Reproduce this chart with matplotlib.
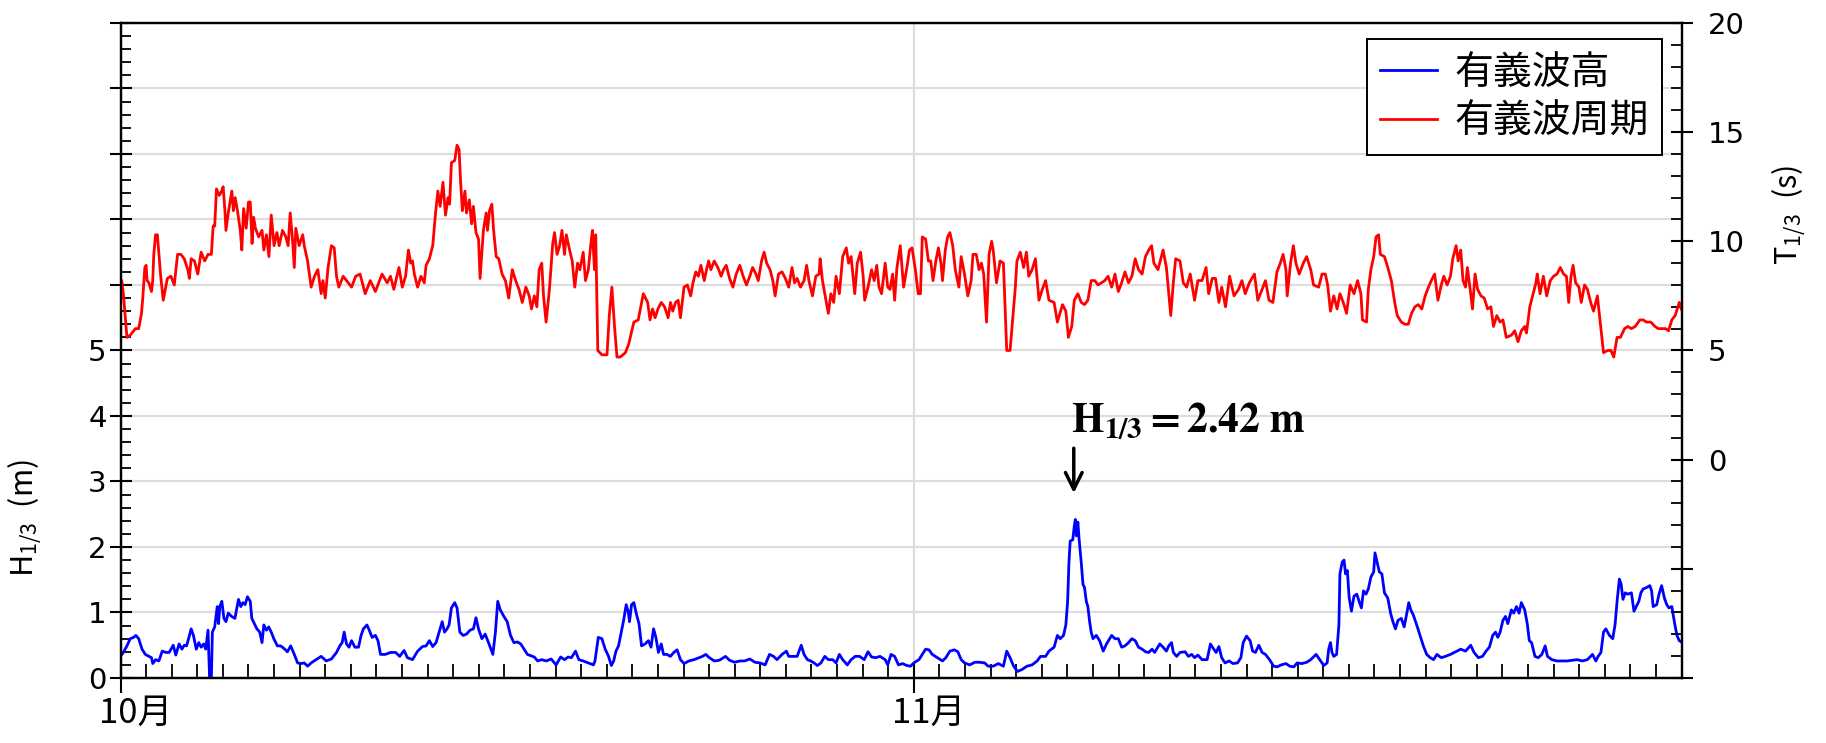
import numpy as np
import matplotlib
matplotlib.use("Agg")
import matplotlib.pyplot as plt
from matplotlib.ticker import MultipleLocator, FixedLocator, FuncFormatter
from matplotlib.transforms import ScaledTranslation

plt.rcParams['font.family'] = ['Noto Sans CJK JP', 'DejaVu Sans']
plt.rcParams['mathtext.fontset'] = 'stix'

# x in days since 10/1 00:00
month_pos = [0, 31]
month_labels = ['10月', '11月']

# significant wave height H1/3 (m)
hs_day = [0.00, 0.11, 0.25, 0.38, 0.51, 0.60, 0.71, 0.84, 0.97, 1.11, 1.21, 1.26, 1.37, 1.50, 1.63, 1.77, 1.90,
          2.06, 2.16, 2.29, 2.40, 2.49, 2.58, 2.66, 2.76, 2.85, 2.96, 3.06, 3.15, 3.25, 3.33, 3.42, 3.48, 3.55,
          3.59, 3.68, 3.78, 3.83, 3.88, 3.96, 4.04, 4.12, 4.21, 4.34, 4.47, 4.61, 4.70, 4.78, 4.87, 4.96, 5.07,
          5.13, 5.23, 5.33, 5.44, 5.53, 5.60, 5.70, 5.79, 5.89, 5.99, 6.13, 6.26, 6.39, 6.52, 6.65, 6.79, 6.92,
          7.05, 7.18, 7.31, 7.45, 7.64, 7.84, 8.04, 8.24, 8.44, 8.57, 8.66, 8.74, 8.83, 8.93, 9.03, 9.16, 9.30,
          9.40, 9.49, 9.63, 9.72, 9.83, 9.96, 10.06, 10.16, 10.35, 10.55, 10.75, 10.91, 11.08, 11.21, 11.41,
          11.61, 11.80, 11.94, 12.07, 12.20, 12.33, 12.47, 12.57, 12.66, 12.76, 12.84, 12.93, 13.06, 13.15,
          13.26, 13.39, 13.52, 13.66, 13.79, 13.89, 13.99, 14.12, 14.25, 14.38, 14.55, 14.65, 14.74, 14.84,
          14.98, 15.11, 15.24, 15.37, 15.51, 15.64, 15.77, 15.90, 16.17, 16.30, 16.46, 16.63, 16.83, 17.02,
          17.20, 17.35, 17.49, 17.62, 17.78, 17.91, 18.08, 18.28, 18.48, 18.54, 18.67, 18.81, 18.94, 19.07,
          19.18, 19.27, 19.36, 19.46, 19.57, 19.66, 19.76, 19.84, 19.89, 19.97, 20.06,
          20.17, 20.26, 20.36, 20.50, 20.63, 20.73, 20.83, 20.92, 21.02, 21.13, 21.22, 21.35, 21.49, 21.62,
          21.75, 21.88, 22.02, 22.21, 22.41, 22.61, 22.74, 22.87, 23.01, 23.20, 23.40, 23.64, 23.80, 24.00,
          24.20, 24.39, 24.59, 24.79, 24.99, 25.19, 25.36, 25.52, 25.65, 25.85, 26.02, 26.11, 26.24, 26.44,
          26.60, 26.71, 26.84, 26.97, 27.10, 27.23, 27.37, 27.52, 27.66, 27.83, 27.96, 28.09, 28.22, 28.40,
          28.55, 28.71, 28.88, 29.06, 29.21, 29.35, 29.51, 29.68, 29.88, 29.98, 30.11, 30.25, 30.40, 30.56,
          30.73, 30.87, 31.00, 31.20, 31.33, 31.46, 31.59, 31.72, 31.92, 32.12, 32.25, 32.41, 32.58, 32.72,
          32.85, 32.98, 33.18, 33.38, 33.57, 33.77, 33.90, 34.10, 34.30, 34.50, 34.63, 34.76, 34.90, 35.05,
          35.23, 35.42, 35.62, 35.82, 35.95, 36.15, 36.28, 36.48, 36.61, 36.72, 36.85, 36.94, 37.01, 37.06,
          37.11, 37.21, 37.27, 37.31, 37.35, 37.41, 37.46, 37.54, 37.61, 37.67, 37.74, 37.80, 37.87, 37.93,
          38.00, 38.13, 38.26, 38.40, 38.53, 38.73, 38.86, 38.99, 39.12, 39.25, 39.39, 39.52, 39.65, 39.78,
          39.92, 40.05, 40.18, 40.31,
          40.41, 40.61, 40.74, 40.87, 40.96, 41.07, 41.14, 41.27, 41.40, 41.60, 41.73, 41.86, 41.97, 42.10,
          42.26, 42.46, 42.59, 42.72, 42.81, 42.92, 43.03, 43.16, 43.32, 43.47, 43.65, 43.78, 43.87, 44.00,
          44.14, 44.24, 44.35, 44.48, 44.61, 44.74, 44.90, 45.06, 45.19, 45.36, 45.54, 45.69, 45.85, 45.98,
          46.16, 46.35, 46.51, 46.72, 46.86, 47.02, 47.15, 47.21, 47.28, 47.34, 47.41, 47.52, 47.61, 47.65,
          47.74, 47.81, 47.87, 47.94, 48.01, 48.10, 48.20, 48.31, 48.40, 48.49, 48.57, 48.67, 48.76, 48.86,
          48.97, 49.02, 49.10, 49.19, 49.29, 49.39, 49.52, 49.63, 49.72, 49.82, 49.92, 50.05, 50.16, 50.25,
          50.34, 50.42, 50.52, 50.65, 50.78, 50.91, 51.04, 51.18, 51.31, 51.44, 51.61, 51.77, 51.97, 52.17,
          52.37, 52.56, 52.76, 52.89, 53.06, 53.22, 53.36, 53.49, 53.62, 53.73, 53.82, 53.91, 54.02, 54.12,
          54.21, 54.35, 54.44, 54.55, 54.65, 54.74, 54.87, 54.97, 55.05, 55.14, 55.27, 55.40, 55.54, 55.67,
          55.76, 55.93, 56.13, 56.33, 56.53, 56.72, 56.92, 57.12, 57.32, 57.52, 57.65, 57.74, 57.85, 57.95,
          58.04, 58.18, 58.31, 58.40, 58.48, 58.57, 58.64, 58.71, 58.80, 58.90, 59.04, 59.14, 59.23, 59.33,
          59.41, 59.50, 59.63, 59.76, 59.83, 59.89, 60.03, 60.12, 60.22, 60.33, 60.42, 60.51, 60.62, 60.73,
          60.82, 60.91, 60.99]
hs_m = [0.33, 0.39, 0.49, 0.60, 0.62, 0.65, 0.60, 0.44, 0.36, 0.33, 0.31, 0.22, 0.28, 0.26, 0.41, 0.39, 0.39,
        0.50, 0.35, 0.52, 0.44, 0.50, 0.49, 0.60, 0.75, 0.65, 0.44, 0.54, 0.47, 0.52, 0.44, 0.73, 0.00, 0.00,
        0.70, 0.78, 1.09, 0.83, 1.09, 1.17, 0.91, 0.86, 0.99, 0.94, 0.91, 1.20, 1.09, 1.15, 1.12, 1.24, 1.17,
        0.91, 0.83, 0.75, 0.70, 0.54, 0.81, 0.73, 0.78, 0.70, 0.60, 0.49, 0.49, 0.45, 0.40, 0.49, 0.36, 0.23,
        0.22, 0.23, 0.18, 0.23, 0.28, 0.33, 0.26, 0.29, 0.39, 0.49, 0.54, 0.70, 0.52, 0.47, 0.57, 0.47, 0.47,
        0.65, 0.75, 0.81, 0.73, 0.62, 0.65, 0.57, 0.36, 0.36, 0.39, 0.39, 0.33, 0.42, 0.31, 0.28,
        0.41, 0.48, 0.49, 0.57, 0.48, 0.54, 0.73, 0.86, 0.70, 0.75, 0.81, 1.07, 1.15, 1.07,
        0.70, 0.65, 0.67, 0.73, 0.75, 0.92, 0.75, 0.60, 0.67, 0.54, 0.36, 0.70, 1.17, 1.04,
        0.94, 0.86, 0.65, 0.54, 0.55, 0.52, 0.44, 0.36, 0.32, 0.26, 0.28, 0.26, 0.29, 0.20,
        0.32, 0.28, 0.32, 0.31, 0.41, 0.28, 0.26, 0.23, 0.20, 0.26, 0.62, 0.60, 0.44, 0.33,
        0.19, 0.26, 0.41, 0.49, 0.70, 0.88, 1.12, 1.01, 0.86, 1.12, 1.15,
        0.96, 0.83, 0.49, 0.52, 0.57, 0.47, 0.75, 0.62, 0.39, 0.52, 0.36, 0.36, 0.33, 0.39,
        0.43, 0.28, 0.22, 0.26, 0.28, 0.31, 0.33, 0.36, 0.31, 0.26, 0.27, 0.33, 0.27, 0.24,
        0.26, 0.26, 0.29, 0.24, 0.23, 0.20, 0.36, 0.33, 0.28, 0.36, 0.41, 0.33, 0.33, 0.33,
        0.50, 0.36, 0.28, 0.26, 0.23, 0.19, 0.23, 0.33, 0.28, 0.28, 0.23, 0.36, 0.28, 0.20,
        0.28, 0.33, 0.33, 0.28, 0.40, 0.32, 0.31, 0.33, 0.28, 0.20, 0.36, 0.33, 0.20, 0.22,
        0.19, 0.18, 0.23, 0.28, 0.36, 0.44, 0.43, 0.36, 0.31, 0.26, 0.31, 0.41, 0.43, 0.40,
        0.28, 0.23, 0.20, 0.24, 0.24, 0.23, 0.18, 0.18, 0.22, 0.18, 0.41, 0.31, 0.18, 0.10,
        0.13, 0.18, 0.20, 0.26, 0.33, 0.33, 0.41, 0.47, 0.65, 0.60, 0.65, 0.81, 1.17, 1.75,
        2.09, 2.11, 2.32, 2.42, 2.17, 2.38, 2.11, 1.77, 1.43, 1.38, 1.17, 1.09, 0.86, 0.70,
        0.60, 0.65, 0.57, 0.41, 0.52, 0.65, 0.60, 0.60, 0.47, 0.49, 0.54, 0.60, 0.57, 0.47,
        0.44, 0.40, 0.39, 0.44,
        0.39, 0.52, 0.47, 0.41, 0.49, 0.54, 0.39, 0.33, 0.39, 0.40, 0.33, 0.36, 0.31, 0.35,
        0.28, 0.28, 0.52, 0.44, 0.39, 0.48, 0.31, 0.23, 0.26, 0.22, 0.23, 0.31, 0.54, 0.64,
        0.57, 0.41, 0.39, 0.50, 0.39, 0.36, 0.28, 0.18, 0.17, 0.20, 0.22, 0.18, 0.17, 0.23,
        0.22, 0.24, 0.28, 0.36, 0.28, 0.19, 0.23, 0.44, 0.54, 0.39, 0.33, 0.36, 0.81, 1.59,
        1.77, 1.80, 1.59, 1.64, 1.23, 1.02, 1.25, 1.28, 1.17, 1.07, 1.33, 1.28, 1.36, 1.54,
        1.62, 1.91, 1.77, 1.62, 1.59, 1.30, 1.22, 0.99, 0.86, 0.75, 0.88, 0.91, 0.78, 0.96,
        1.15, 1.04, 0.96, 0.81, 0.65, 0.49, 0.36, 0.31, 0.28, 0.36, 0.31, 0.33, 0.36, 0.40,
        0.44, 0.41, 0.50, 0.39, 0.31, 0.33, 0.41, 0.47, 0.65, 0.70, 0.62, 0.70, 0.88, 0.94,
        0.83, 1.04, 0.99, 1.09, 0.99, 1.15, 1.04, 0.83, 0.57, 0.54, 0.33, 0.31, 0.36, 0.49,
        0.33, 0.28, 0.26, 0.26, 0.26, 0.27, 0.28, 0.26, 0.28, 0.36, 0.26, 0.33, 0.39, 0.70,
        0.75, 0.65, 0.60, 0.81, 1.17, 1.51, 1.43, 1.20, 1.30, 1.28, 1.30, 1.02, 1.09, 1.17,
        1.30, 1.36, 1.38, 1.41, 1.33, 1.09, 1.12, 1.28, 1.41, 1.22, 1.12, 1.07, 1.09, 0.83,
        0.65, 0.57, 0.55]

# significant wave period T1/3 (s)
ts_day = [0.00, 0.05, 0.12, 0.25, 0.38, 0.58, 0.71, 0.82, 0.87, 0.95, 1.00, 1.04, 1.11, 1.21, 1.26, 1.30,
          1.37, 1.44, 1.57, 1.67, 1.83, 1.97, 2.10, 2.23, 2.36, 2.49, 2.63, 2.69, 2.76, 2.89, 3.02, 3.15,
          3.29, 3.42, 3.55, 3.62, 3.68, 3.75, 3.86, 3.95, 4.01, 4.08, 4.12, 4.21, 4.35, 4.41, 4.48, 4.57,
          4.68, 4.74, 4.81, 4.91, 5.00, 5.07, 5.14, 5.20, 5.27, 5.40, 5.53, 5.60, 5.70, 5.80, 5.89, 6.00,
          6.11, 6.20, 6.33, 6.46, 6.55, 6.63, 6.72, 6.79, 6.85, 6.98, 7.12, 7.18, 7.31, 7.45, 7.58, 7.71,
          7.84, 7.91, 8.00, 8.11, 8.24, 8.35, 8.44, 8.53, 8.70, 8.90, 9.03, 9.19, 9.36, 9.56, 9.76, 9.96,
          10.09, 10.22, 10.42, 10.55, 10.68, 10.82, 10.88, 11.01, 11.14, 11.25, 11.34, 11.41, 11.48, 11.61,
          11.74, 11.87, 11.94, 12.07, 12.20, 12.31, 12.40, 12.49, 12.60, 12.70, 12.80, 12.86, 12.93, 13.06,
          13.15, 13.23, 13.29, 13.36, 13.46, 13.52, 13.63, 13.72, 13.79, 13.89, 13.99, 14.05, 14.18, 14.29,
          14.34, 14.42, 14.51, 14.58, 14.68, 14.78, 14.91, 15.04, 15.17, 15.31, 15.44, 15.57, 15.70, 15.84,
          15.97, 16.06, 16.17, 16.27, 16.36, 16.46, 16.53, 16.63, 16.76, 16.89, 16.96, 17.06, 17.16, 17.25,
          17.35, 17.42, 17.55, 17.65, 17.75, 17.86, 17.95, 18.08, 18.17, 18.28, 18.38, 18.44, 18.52, 18.57,
          18.65, 18.81, 19.01, 19.10, 19.20, 19.31, 19.40, 19.53, 19.73, 19.86, 20.06,
          20.23, 20.43, 20.60, 20.69, 20.79, 20.89, 21.00, 21.13, 21.26, 21.40, 21.49, 21.58, 21.69, 21.79,
          21.88, 22.02, 22.15, 22.28, 22.37, 22.48, 22.58, 22.68, 22.81, 22.90, 22.98, 23.07, 23.20, 23.34,
          23.47, 23.56, 23.67, 23.80, 23.93, 24.06, 24.20, 24.33, 24.46, 24.59, 24.70, 24.83, 24.92, 25.05,
          25.15, 25.25, 25.38, 25.49, 25.58, 25.71, 25.85, 25.98, 26.11, 26.24, 26.34, 26.44, 26.57, 26.71,
          26.81, 26.90, 27.04, 27.17, 27.30, 27.34, 27.43, 27.52, 27.66, 27.76, 27.87, 27.96, 28.09, 28.22,
          28.36, 28.45, 28.55, 28.69, 28.79, 28.92, 29.02, 29.08, 29.21, 29.35, 29.45, 29.55, 29.64, 29.74,
          29.88, 29.98, 30.07, 30.17, 30.25, 30.34, 30.47, 30.60, 30.73, 30.83, 30.93, 31.06, 31.17, 31.26,
          31.33, 31.46, 31.57, 31.66, 31.75, 31.86, 31.96, 32.06, 32.12, 32.23, 32.32, 32.41, 32.52, 32.62,
          32.76, 32.85, 32.98, 33.11, 33.24, 33.31, 33.44, 33.55, 33.64, 33.73, 33.84, 33.94, 34.04, 34.10,
          34.23, 34.37, 34.50, 34.63, 34.76, 34.83, 34.96, 35.03, 35.16, 35.29, 35.40, 35.49, 35.62, 35.75,
          35.89, 36.02, 36.15, 36.28, 36.48, 36.61, 36.81, 36.94, 37.04, 37.17, 37.27, 37.41, 37.54, 37.67,
          37.80, 37.93, 38.07, 38.20, 38.33, 38.46, 38.59, 38.73, 38.86, 38.99, 39.12, 39.25, 39.39, 39.52,
          39.65, 39.78, 39.92, 40.05, 40.18, 40.29, 40.38,
          40.54, 40.74, 40.87, 41.04, 41.14, 41.23, 41.40, 41.53, 41.66, 41.80, 41.97, 42.10, 42.26, 42.42,
          42.52, 42.66, 42.79, 42.92, 43.03, 43.18, 43.34, 43.51, 43.69, 43.82, 43.95, 44.11, 44.31, 44.44,
          44.61, 44.74, 44.88, 45.03, 45.19, 45.32, 45.43, 45.54, 45.59, 45.72, 45.83, 45.93, 46.06, 46.22,
          46.35, 46.51, 46.62, 46.82, 46.95, 47.08, 47.17, 47.28, 47.41, 47.54, 47.65, 47.78, 47.91, 48.05,
          48.20, 48.34, 48.47, 48.53, 48.69, 48.76, 48.86, 48.97, 49.06, 49.16, 49.23, 49.39, 49.52, 49.66,
          49.79, 49.89, 50.05, 50.19, 50.32, 50.45, 50.58, 50.71, 50.85, 50.98, 51.11, 51.22, 51.35, 51.48,
          51.61, 51.71, 51.84, 51.97, 52.06, 52.19, 52.27, 52.37, 52.46, 52.56, 52.63, 52.76, 52.83, 52.93,
          53.03, 53.16, 53.29, 53.42, 53.55, 53.65, 53.78, 53.91, 54.02, 54.15, 54.35, 54.48, 54.61, 54.74,
          54.87, 54.94, 55.07, 55.20, 55.31, 55.36, 55.47, 55.60, 55.73, 55.87, 56.00, 56.13, 56.26, 56.39,
          56.50, 56.59, 56.68, 56.76, 56.86, 56.99, 57.08, 57.21, 57.32, 57.45, 57.56, 57.71, 57.82, 57.95,
          58.11, 58.24, 58.35, 58.48, 58.61, 58.77, 58.90, 59.04, 59.19, 59.37, 59.50, 59.63, 59.80, 59.96,
          60.09, 60.22, 60.38, 60.49, 60.62, 60.75, 60.91, 60.99]
ts_s = [8.1, 8.2, 7.5, 5.6, 5.7, 6.0, 6.0, 6.7, 7.4, 8.8, 8.9, 8.2, 8.1, 7.7, 8.2, 9.4,
        10.3, 10.3, 8.4, 7.3, 8.3, 8.4, 8.0, 9.4, 9.4, 9.2, 8.7, 8.3, 9.2, 9.1, 8.5, 9.5,
        9.1, 9.4, 9.4, 10.7, 10.7, 12.4, 12.1, 12.3, 12.5, 11.4, 10.5, 11.3, 12.3, 11.4, 12.0, 11.4,
        10.5, 9.6, 11.5, 10.6, 11.8, 11.8, 9.9, 11.1, 10.6, 10.2, 10.5, 9.6, 10.3, 9.3, 11.2, 9.8,
        10.4, 9.8, 10.5, 10.2, 9.8, 11.3, 10.1, 8.8, 10.6, 9.8, 10.3, 9.8, 9.1, 7.9, 8.4, 8.7,
        7.6, 8.2, 7.4, 8.8, 9.8, 9.7, 8.4, 7.9, 8.4, 8.1, 7.9, 8.4, 8.5, 7.6, 8.2, 7.7,
        8.1, 8.5, 8.1, 8.4, 7.8, 8.5, 8.8, 7.9, 8.4, 9.6, 9.0, 9.1, 8.5, 7.9,
        8.4, 8.1, 8.9, 9.2, 9.8, 11.3, 12.3, 11.6, 12.7, 11.2, 12.0, 11.7, 13.6, 13.7,
        14.4, 14.2, 12.7, 11.4, 12.3, 11.3, 11.9, 10.8, 11.6, 10.4, 10.1, 8.3, 10.5, 11.3,
        10.5, 11.4, 11.7, 10.5, 9.3, 9.2, 8.5, 8.2, 7.4, 8.7, 8.2, 7.8, 7.2, 7.9,
        7.5, 6.9, 7.5, 7.0, 8.7, 9.0, 7.5, 6.3, 7.8, 9.9, 10.4, 9.4, 9.8, 10.5,
        9.4, 10.3, 9.6, 9.1, 7.9, 9.0, 8.7, 9.5, 8.2, 8.7, 9.9, 10.5, 8.7, 10.3,
        5.0, 4.8, 4.8, 6.6, 7.9, 6.0, 4.7, 4.7, 4.9, 5.3, 6.3,
        6.4, 7.6, 7.2, 6.4, 6.9, 6.5, 6.9, 7.2, 7.0, 6.5, 7.2, 6.8, 7.2, 7.3,
        6.5, 7.9, 8.0, 7.5, 8.1, 8.6, 8.4, 8.9, 8.2, 8.7, 9.1, 8.7, 9.1, 8.8,
        8.4, 8.7, 8.9, 8.3, 7.9, 8.5, 8.9, 8.4, 8.0, 8.4, 8.8, 8.5, 8.2, 9.1,
        9.5, 9.0, 8.7, 8.2, 7.5, 8.5, 8.6, 8.3, 7.9, 8.8, 8.1, 8.3, 7.9, 8.2,
        8.9, 8.2, 7.5, 8.4, 8.5, 9.2, 8.2, 7.6, 6.7, 7.6, 7.2, 8.4, 7.6, 9.3,
        9.7, 9.0, 9.3, 7.6, 9.0, 9.5, 8.4, 7.3, 7.9, 8.7, 8.2, 8.9, 7.9, 7.6,
        9.0, 7.9, 7.8, 8.5, 7.3, 8.8, 9.8, 7.9, 8.8, 9.6, 9.7, 8.7, 7.6, 7.6,
        10.2, 10.1, 9.1, 9.1, 8.2, 9.1, 9.7, 9.0, 8.2, 9.6, 10.2, 10.4, 9.8, 8.7,
        7.9, 9.3, 8.5, 7.5, 8.2, 9.4, 9.4, 8.7, 9.0, 8.5, 6.3, 9.4, 10.0, 9.6,
        8.1, 9.1, 9.0, 5.0, 5.0, 6.0, 7.8, 9.1, 9.5, 8.8, 9.5, 8.4, 8.7, 9.2,
        7.3, 7.8, 8.2, 7.3, 7.2, 6.3, 7.1, 6.8, 5.6, 6.1, 7.3, 7.6, 7.2, 7.1,
        7.3, 8.2, 8.2, 8.0, 8.1, 8.2, 8.4, 7.9, 8.5, 7.7, 8.1, 8.6, 8.1, 8.4,
        9.2, 8.7, 8.5, 9.3, 9.6, 9.8, 9.0,
        8.7, 9.6, 8.8, 6.6, 8.1, 9.2, 9.1, 8.1, 7.9, 8.5, 7.3, 8.2, 8.2, 8.8,
        7.6, 8.3, 8.3, 7.2, 7.9, 7.0, 8.4, 7.5, 7.8, 8.2, 7.6, 8.1, 8.5, 7.3,
        7.8, 8.2, 7.3, 7.2, 8.6, 9.0, 9.4, 8.7, 7.5, 9.0, 9.8, 9.0, 8.5, 9.0,
        9.3, 8.7, 8.0, 7.9, 8.5, 8.5, 8.0, 6.8, 7.5, 6.9, 7.6, 7.2, 6.7, 8.0,
        7.6, 8.2, 7.6, 6.4, 6.3, 7.8, 8.7, 9.3, 10.2, 10.3, 9.4, 9.3, 8.8, 8.2,
        7.2, 6.6, 6.3, 6.2, 6.2, 6.7, 7.0, 7.1, 6.9, 7.5, 7.9, 8.2, 8.5, 7.3,
        8.0, 8.4, 8.0, 8.4, 9.2, 9.8, 9.1, 9.6, 8.2, 7.9, 8.8, 7.6, 6.9, 8.5,
        7.8, 7.5, 7.4, 6.9, 7.0, 6.1, 6.6, 6.3, 6.4, 5.6, 5.7, 5.9, 5.4, 5.9,
        6.1, 5.8, 7.0, 7.6, 8.1, 8.5, 7.6, 8.4, 7.5, 8.2, 8.4, 8.5, 8.8, 8.5,
        8.4, 7.2, 8.4, 8.9, 8.1, 7.9, 7.2, 8.0, 7.8, 7.2, 6.8, 7.5, 6.3, 4.9,
        5.0, 5.0, 4.7, 5.6, 5.6, 6.0, 6.1, 6.0, 6.1, 6.4, 6.4, 6.3, 6.3, 6.1,
        6.0, 6.0, 6.0, 5.9, 6.4, 6.6, 7.2, 6.9]

fig = plt.figure(figsize=(18.26, 7.43), dpi=100)
ax = fig.add_axes([0.066, 0.0875, 0.8549, 0.8816])
ax2 = ax.twinx()

ax.set_xlim(0, 61)
ax.set_ylim(0, 10)
ax2.set_ylim(-10, 20)

l1, = ax.plot(hs_day, hs_m, color='#0000ff', lw=2.0, label='有義波高')
l2, = ax2.plot(ts_day, ts_s, color='#ff0000', lw=2.0, label='有義波周期')

# grid
ax.set_axisbelow(True)
ax.grid(True, which='major', color='#dddddd', lw=1.6)

num_font = 'DejaVu Sans'

# x axis
ax.xaxis.set_major_locator(FixedLocator(month_pos))
ax.set_xticklabels(month_labels)
ax.xaxis.set_minor_locator(MultipleLocator(1))
ax.tick_params(axis='x', which='major', direction='inout', length=22, width=1.5,
               labelsize=25, pad=2)
ax.tick_params(axis='x', which='minor', direction='in', length=10, width=1.3)
for lbl in ax.get_xticklabels():
    lbl.set_transform(lbl.get_transform() + ScaledTranslation(0.15, 0, fig.dpi_scale_trans))

# left axis
ax.yaxis.set_major_locator(MultipleLocator(1))
ax.yaxis.set_minor_locator(MultipleLocator(0.2))
ax.yaxis.set_major_formatter(FuncFormatter(lambda v, p: '%d' % v if v <= 5 else ''))
ax.tick_params(axis='y', which='major', direction='inout', length=16, width=1.5,
               labelsize=21, pad=2)
ax.tick_params(axis='y', which='minor', direction='in', length=7, width=1.3)
ax.set_ylabel('H$_{\\mathregular{1/3}}$  (m)', fontsize=22)
ax.yaxis.set_label_coords(-0.049, 0.244)

# right axis
ax2.yaxis.set_major_locator(MultipleLocator(5))
ax2.yaxis.set_minor_locator(MultipleLocator(1))
ax2.yaxis.set_major_formatter(FuncFormatter(lambda v, p: '%d' % v if v >= 0 else ''))
ax2.tick_params(axis='y', which='major', direction='inout', length=16, width=1.5,
                labelsize=21, pad=11)
ax2.tick_params(axis='y', which='minor', direction='in', length=8, width=1.3)
ax2.set_ylabel('T$_{\\mathregular{1/3}}$  (s)', fontsize=22)
ax2.yaxis.set_label_coords(1.057, 0.707)

for lbl in ax.get_yticklabels() + ax2.get_yticklabels():
    lbl.set_family(num_font)

for a in (ax, ax2):
    for s in a.spines.values():
        s.set_linewidth(1.6)

leg = ax2.legend(handles=[l1, l2], loc='upper right', bbox_to_anchor=(0.9875, 0.975),
                 borderaxespad=0, fontsize=28, fancybox=False, framealpha=1,
                 edgecolor='black', handlelength=1.45, handletextpad=0.45,
                 labelspacing=0.22, borderpad=0.35)
leg.get_frame().set_linewidth(1.4)

# peak annotation
ax.annotate('', xy=(37.25, 2.78), xytext=(37.25, 3.55),
            arrowprops=dict(arrowstyle='->', lw=2.5, color='black', mutation_scale=30))
ax.text(37.13, 3.74, r'$\mathbf{H_{1/3} = 2.42\ m}$', fontsize=30, ha='left', va='baseline')

fig.savefig('out.png', dpi=100)
